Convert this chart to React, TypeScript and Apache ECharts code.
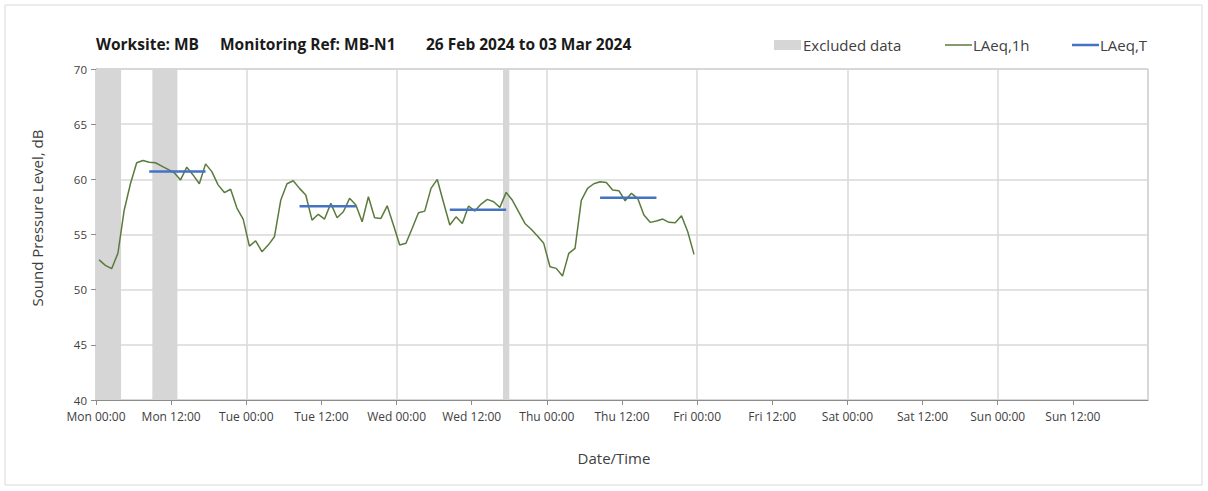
import React, { useEffect, useRef } from "react";
import * as echarts from "echarts";

// Hourly LAeq,1h values (sample i is plotted at hour i + 0.5 from Mon 00:00)
const laeq1h = [
  52.7, 52.2, 51.9, 53.3, 57.2, 59.6, 61.5, 61.7, 61.55, 61.5, 61.2, 60.9, 60.6, 59.95, 61.1, 60.4, 59.6, 61.4, 60.7, 59.5, 58.8, 59.1, 57.4, 56.4,
  53.95, 54.43, 53.44, 54.04, 54.8, 58.1, 59.6, 59.87, 59.18, 58.58, 56.3, 56.83, 56.4, 57.82, 56.52, 57.06, 58.28, 57.68, 56.16, 58.42, 56.52, 56.46, 57.6, 55.86,
  54.04, 54.2, 55.56, 56.97, 57.12, 59.18, 59.99, 57.9, 55.86, 56.6, 56.0, 57.58, 57.12, 57.76, 58.18, 57.97, 57.46, 58.82, 58.1, 57.06, 56.0, 55.47, 54.86, 54.2,
  52.08, 51.93, 51.23, 53.29, 53.74, 58.1, 59.18, 59.6, 59.78, 59.72, 59.03, 58.97, 58.06, 58.73, 58.28, 56.76, 56.1, 56.22, 56.4, 56.1, 56.07, 56.7, 55.25, 53.2,
];

// LAeq,T periods (hours from Mon 00:00)
const periodStart = [8.5, 32.5, 56.5, 80.5];
const periodEnd = [17.5, 41.5, 65.5, 89.5];
const periodValue = [60.7, 57.55, 57.25, 58.33];

// Excluded data bands (hours from Mon 00:00)
const excludedStart = [0, 9, 65];
const excludedEnd = [4, 13, 66];

const tickLabels = [
  "Mon 00:00", "Mon 12:00", "Tue 00:00", "Tue 12:00", "Wed 00:00", "Wed 12:00",
  "Thu 00:00", "Thu 12:00", "Fri 00:00", "Fri 12:00", "Sat 00:00", "Sat 12:00",
  "Sun 00:00", "Sun 12:00",
];

const FONT = "'Open Sans', 'Noto Sans', sans-serif";
const GREEN = "#5a7b3c";
const BLUE = "#4472c4";
const BAND = "#d6d6d6";

export default function App() {
  const ref = useRef<HTMLDivElement>(null);

  useEffect(() => {
    if (!ref.current) return;
    const chart = echarts.init(ref.current, undefined, { renderer: "svg" });

    const lineData = laeq1h.map((v, i) => [i + 0.5, v]);

    const periodSeries = periodStart.map((s, i) => ({
      type: "line" as const,
      name: "LAeq,T",
      xAxisIndex: 0,
      yAxisIndex: 0,
      data: [
        [s, periodValue[i]],
        [periodEnd[i], periodValue[i]],
      ],
      symbol: "none",
      lineStyle: { color: BLUE, width: 2.5 },
      z: 4,
      silent: true,
    }));

    const option: any = {
      animation: false,
      textStyle: { fontFamily: FONT },
      grid: {
        left: 96,
        right: 60,
        top: 69,
        bottom: 91,
        show: true,
        borderColor: "#a6a6a6",
        borderWidth: 1,
        backgroundColor: "transparent",
      },
      xAxis: [
        {
          type: "value",
          min: 0,
          max: 168,
          interval: 12,
          axisLine: { show: true, lineStyle: { color: "#8c8c8c", width: 1 } },
          axisTick: { show: true, inside: false, length: 5, lineStyle: { color: "#8c8c8c" } },
          splitLine: { show: false },
          axisLabel: {
            color: "#404040",
            fontSize: 12,
            fontFamily: FONT,
            margin: 10,
            showMaxLabel: false,
            formatter: (v: number) => tickLabels[Math.round(v / 12)] ?? "",
          },
        },
        {
          type: "value",
          min: 0,
          max: 168,
          interval: 24,
          position: "bottom",
          axisLine: { show: false },
          axisTick: { show: false },
          axisLabel: { show: false },
          splitLine: { show: true, lineStyle: { color: "#d9d9d9", width: 1.5 } },
        },
      ],
      yAxis: {
        type: "value",
        min: 40,
        max: 70,
        interval: 5,
        axisLine: { show: true, lineStyle: { color: "#8c8c8c", width: 1 } },
        axisTick: { show: true, inside: false, length: 5, lineStyle: { color: "#8c8c8c" } },
        splitLine: { show: true, lineStyle: { color: "#d9d9d9", width: 1.5 } },
        axisLabel: { color: "#404040", fontSize: 11.5, fontFamily: FONT, margin: 9 },
      },
      series: [
        {
          type: "line",
          name: "Excluded data",
          data: [],
          xAxisIndex: 0,
          z: 1,
          silent: true,
          markArea: {
            silent: true,
            itemStyle: { color: BAND },
            data: excludedStart.map((s, i) => [{ xAxis: s }, { xAxis: excludedEnd[i] }]),
          },
        },
        {
          type: "line",
          name: "LAeq,1h",
          xAxisIndex: 0,
          data: lineData,
          symbol: "none",
          lineStyle: { color: GREEN, width: 1.5 },
          z: 3,
          silent: true,
        },
        ...periodSeries,
      ],
      graphic: [
        {
          type: "rect",
          shape: { x: 5, y: 5, width: 1197, height: 480 },
          style: { fill: "none", stroke: "#d9d9d9", lineWidth: 1 },
          silent: true,
          z: 0,
        },
        {
          type: "text",
          x: 96,
          y: 44,
          style: { text: "Worksite: MB", font: `bold 15.5px ${FONT}`, fill: "#1a1a1a", verticalAlign: "middle" },
        },
        {
          type: "text",
          x: 220,
          y: 44,
          style: { text: "Monitoring Ref: MB-N1", font: `bold 15.5px ${FONT}`, fill: "#1a1a1a", verticalAlign: "middle" },
        },
        {
          type: "text",
          x: 426,
          y: 44,
          style: { text: "26 Feb 2024 to 03 Mar 2024", font: `bold 15.5px ${FONT}`, fill: "#1a1a1a", verticalAlign: "middle" },
        },
        // Legend
        {
          type: "rect",
          shape: { x: 774, y: 40, width: 27, height: 10 },
          style: { fill: BAND },
        },
        {
          type: "text",
          x: 803,
          y: 45,
          style: { text: "Excluded data", font: `15px ${FONT}`, fill: "#404040", verticalAlign: "middle" },
        },
        {
          type: "line",
          shape: { x1: 945, y1: 45, x2: 972, y2: 45 },
          style: { stroke: GREEN, lineWidth: 1.5 },
        },
        {
          type: "text",
          x: 973,
          y: 45,
          style: { text: "LAeq,1h", font: `15px ${FONT}`, fill: "#404040", verticalAlign: "middle" },
        },
        {
          type: "line",
          shape: { x1: 1072, y1: 45, x2: 1099, y2: 45 },
          style: { stroke: BLUE, lineWidth: 2.5 },
        },
        {
          type: "text",
          x: 1100,
          y: 45,
          style: { text: "LAeq,T", font: `15px ${FONT}`, fill: "#404040", verticalAlign: "middle" },
        },
        // Axis names
        {
          type: "text",
          x: 37,
          y: 218,
          rotation: Math.PI / 2,
          style: {
            text: "Sound Pressure Level, dB",
            font: `15px ${FONT}`,
            fill: "#404040",
            align: "center",
            verticalAlign: "middle",
          },
        },
        {
          type: "text",
          x: 614,
          y: 458,
          style: {
            text: "Date/Time",
            font: `15px ${FONT}`,
            fill: "#404040",
            align: "center",
            verticalAlign: "middle",
          },
        },
      ],
    };

    chart.setOption(option);
    return () => chart.dispose();
  }, []);

  return (
    <div
      ref={ref}
      style={{ position: "fixed", left: 0, top: 0, width: 1208, height: 491, background: "#ffffff" }}
    />
  );
}
